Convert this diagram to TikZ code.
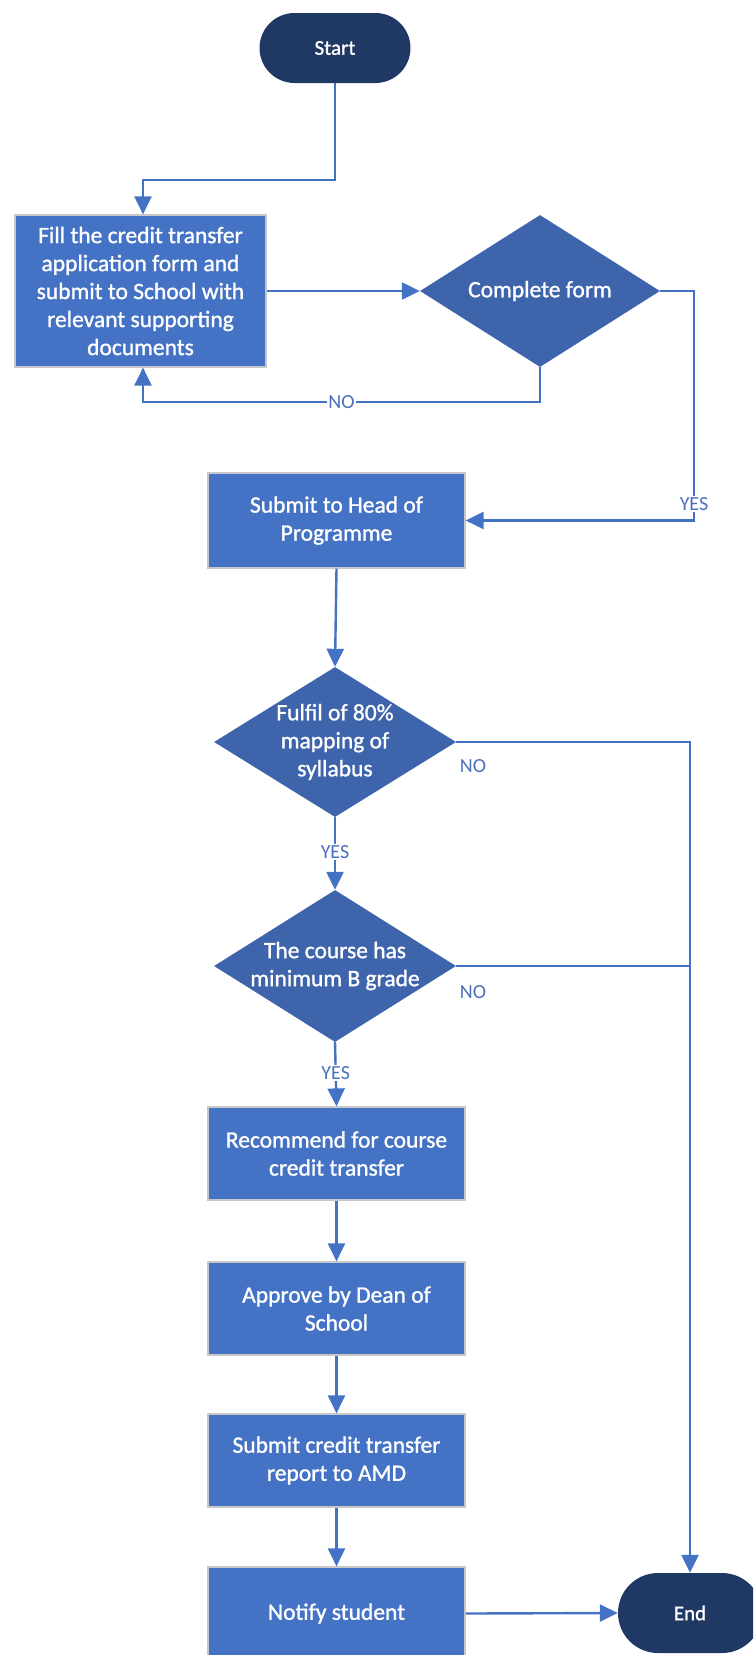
\documentclass[tikz,border=0pt]{standalone}
\usepackage{fontspec}
\setmainfont{Carlito}
\newfontfamily\boxfont{Carlito}[FakeBold=1.2]
\usetikzlibrary{arrows.meta,shapes.geometric}
\definecolor{boxblue}{HTML}{4472C4}
\definecolor{diablue}{HTML}{3E64AC}
\definecolor{navy}{HTML}{203864}
\definecolor{edgegray}{HTML}{C8C8C8}
\definecolor{lblblue}{HTML}{4A70BC}
\begin{document}
\begin{tikzpicture}[x=1pt,y=-1pt,
  proc/.style={rectangle, fill=boxblue, draw=edgegray, line width=1.2pt,
    minimum width=257pt, minimum height=93pt, text=white, align=center,
    inner sep=0pt, font=\boxfont\fontsize{23.5}{28}\selectfont},
  term/.style={rectangle, fill=navy, rounded corners=#1, text=white,
    inner sep=0pt, font=\boxfont\fontsize{21}{25}\selectfont},
  dia/.style={diamond, fill=diablue, inner sep=0pt},
  dtext/.style={text=white, align=center, inner sep=0pt,
    font=\boxfont\fontsize{23.5}{28}\selectfont},
  conn/.style={draw=boxblue, line width=2.4pt},
  arr/.style={conn, -{Triangle[length=18pt,width=17pt]}},
  lbl/.style={fill=white, text=lblblue, inner sep=1.5pt,
    font=\fontsize{20}{22}\selectfont},
  lbltext/.style={text=lblblue, inner sep=0pt, font=\fontsize{20}{22}\selectfont}
]
\useasboundingbox (0,0) rectangle (753,1655);
\clip (0,0) rectangle (753,1655);

% nodes
\node[term=35pt, minimum width=151pt, minimum height=70pt] (start) at (335,48) {Start};
\node[proc, minimum width=251pt, minimum height=152pt] (fill) at (140.5,291)
  {Fill the credit transfer\\application form and\\submit to School with\\relevant supporting\\documents};
\node[dia, minimum width=240pt, minimum height=152pt,
  label={[dtext]center:Complete form}] (d1) at (540,291) {};
\node[proc, minimum height=95pt] (head) at (336.5,520.5) {Submit to Head of\\Programme};
\node[dia, minimum width=242pt, minimum height=150pt,
  label={[dtext]center:{Fulfil of 80\%\\mapping of\\syllabus}}] (d2) at (335,742) {};
\node[dia, minimum width=242pt, minimum height=152pt,
  label={[dtext]center:{The course has\\minimum B grade}}] (d3) at (335,966) {};
\node[proc] (rec) at (336.5,1153.5) {Recommend for course\\credit transfer};
\node[proc] (appr) at (336.5,1308.5) {Approve by Dean of\\School};
\node[proc] (rep) at (336.5,1460.5) {Submit credit transfer\\report to AMD};
\node[proc] (notify) at (336.5,1613.5) {Notify student};
\node[term=40pt, minimum width=144pt, minimum height=80pt] (end) at (690,1613) {End};

\coordinate (c1) at (143,180);
\coordinate (c2) at (143,402);
\coordinate (c3) at (694,520.5);

% connectors
\draw[arr] (start.south) |- (c1) -- (c1 |- fill.north);
\draw[arr] (fill.east |- d1.west) -- (d1.west);
\draw[arr] (d1.south) |- node[lbl, pos=0.75] {NO} (c2) -- (c2 |- fill.south);
\draw[arr] (d1.east) -- (d1.east -| c3) -- node[lbl, pos=0.93] {YES} (c3) -- (head.east);
\draw[arr] (head.south) -- (d2.north);
\draw[arr] (d2.south) -- node[lbl, pos=0.48] {YES} (d3.north);
\draw[arr] (d2.east) -| (end.north);
\draw[conn] (d3.east) -- (d3.east -| end.north);
\draw[arr] (d3.south) -- node[lbl, pos=0.48] {YES} (rec.north);
\draw[arr] (rec.south) -- (appr.north);
\draw[arr] (appr.south) -- (rep.north);
\draw[arr] (rep.south) -- (notify.north);
\draw[arr] (notify.east) -- (end.west);

\node[lbltext] (no1) at (473,766) {NO};
\node[lbltext] (no2) at (473,992) {NO};
\end{tikzpicture}
\end{document}
